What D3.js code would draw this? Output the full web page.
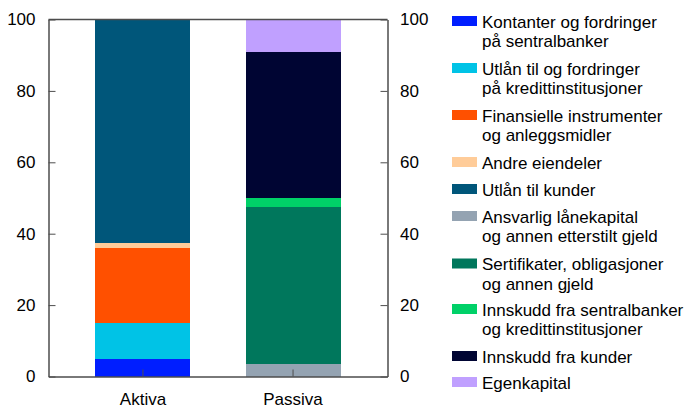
<!DOCTYPE html>
<html>
<head>
<meta charset="utf-8">
<script src="https://cdn.jsdelivr.net/npm/d3@7"></script>
<style>
  html, body { margin: 0; padding: 0; background: #fff; }
  svg { display: block; font-family: "Liberation Sans", Arial, sans-serif; }
</style>
</head>
<body>
<svg id="chart" width="686" height="409"></svg>
<script>
// ---- data ----
const categories = ["Aktiva", "Passiva"];
const seriesNames = [
  "Kontanter og fordringer\npå sentralbanker",
  "Utlån til og fordringer\npå kredittinstitusjoner",
  "Finansielle instrumenter\nog anleggsmidler",
  "Andre eiendeler",
  "Utlån til kunder",
  "Ansvarlig lånekapital\nog annen etterstilt gjeld",
  "Sertifikater, obligasjoner\nog annen gjeld",
  "Innskudd fra sentralbanker\nog kredittinstitusjoner",
  "Innskudd fra kunder",
  "Egenkapital"
];
const aktivaValues  = [5.0, 10.1, 21.0, 1.2, 62.7, 0, 0, 0, 0, 0];
const passivaValues = [0, 0, 0, 0, 0, 3.4, 44.2, 2.5, 40.9, 9.0];
const seriesColors = ["#001eff", "#00c3e6", "#ff5000", "#ffcc99", "#00567a",
                      "#94a3b2", "#00775c", "#00d168", "#000533", "#c0a0ff"];
const yTicks = [0, 20, 40, 60, 80, 100];

// ---- layout ----
const svg = d3.select("#chart");
const L = 48.5, R = 387.5, T = 19.5, B = 376.5;
const axisColor = "#4d4d4d";
const fontSize = 17;
const legendTops = [16, 63, 110, 157, 184, 211, 258.5, 304, 351, 377];

const keys = seriesNames.map((d, i) => "s" + i);
const table = categories.map((c, ci) => {
  const row = { cat: c };
  const vals = ci === 0 ? aktivaValues : passivaValues;
  keys.forEach((k, i) => row[k] = vals[i]);
  return row;
});
const stacked = d3.stack().keys(keys)(table);

const x = d3.scaleBand().domain(categories).range([L, R])
  .paddingInner(0.367).paddingOuter(0.313);
const y = d3.scaleLinear().domain([0, 100]).range([B, T]);

// bars
svg.append("g").selectAll("g").data(stacked).join("g")
  .attr("fill", (d, i) => seriesColors[i])
  .selectAll("rect").data(d => d.filter(p => p[1] - p[0] > 0)).join("rect")
  .attr("x", d => x(d.data.cat))
  .attr("width", x.bandwidth())
  .attr("y", d => y(d[1]))
  .attr("height", d => y(d[0]) - y(d[1]))
  .attr("shape-rendering", "crispEdges");

// frame top
svg.append("line").attr("x1", L).attr("x2", R).attr("y1", T).attr("y2", T)
  .attr("stroke", axisColor).attr("stroke-width", 1.5);

function styleAxis(g) {
  g.select(".domain").attr("stroke", axisColor).attr("stroke-width", 1.5);
  g.selectAll(".tick line").attr("stroke", axisColor);
  g.selectAll(".tick text").attr("fill", "#000").attr("font-size", fontSize)
    .attr("font-family", "'Liberation Sans', Arial, sans-serif");
}

// left axis
svg.append("g").attr("transform", `translate(${L},0)`)
  .call(d3.axisLeft(y).tickValues(yTicks).tickSizeInner(-7).tickSizeOuter(0).tickPadding(13))
  .call(styleAxis);
// right axis
svg.append("g").attr("transform", `translate(${R},0)`)
  .call(d3.axisRight(y).tickValues(yTicks).tickSizeInner(-7).tickSizeOuter(0).tickPadding(12.5))
  .call(g => g.selectAll(".tick text").attr("text-anchor", "start"))
  .call(styleAxis);
// bottom axis
const xa = svg.append("g").attr("transform", `translate(0,${B})`)
  .call(d3.axisBottom(x).tickSizeInner(-7).tickSizeOuter(0).tickPadding(16))
  .call(styleAxis);

// legend
const legend = svg.append("g");
seriesNames.forEach((name, i) => {
  const lines = name.split("\n");
  const g = legend.append("g").attr("transform", `translate(452,${legendTops[i]})`);
  g.append("rect").attr("width", 25).attr("height", 10).attr("fill", seriesColors[i]);
  const t = g.append("text").attr("x", 30).attr("y", 11.5)
    .attr("font-size", fontSize).attr("fill", "#000");
  lines.forEach((ln, j) => {
    t.append("tspan").attr("x", 30).attr("dy", j === 0 ? 0 : 19.5).text(ln);
  });
});
</script>
</body>
</html>
